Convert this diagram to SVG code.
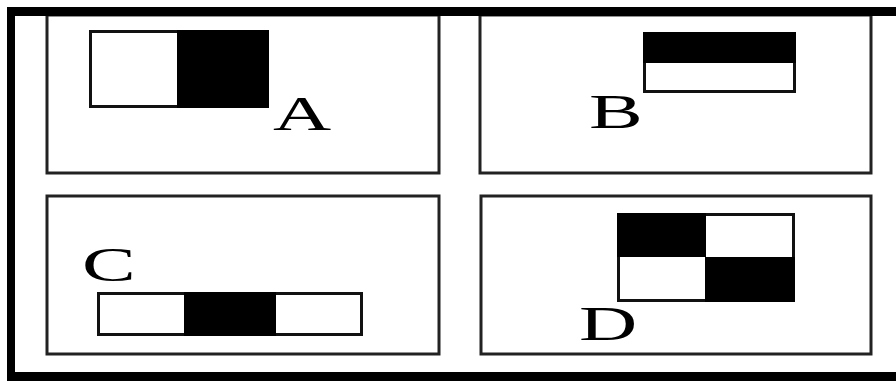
<svg xmlns="http://www.w3.org/2000/svg" width="896" height="381" viewBox="0 0 896 381">
<style>
.panel{fill:#fff;stroke:#222;stroke-width:3}
.box{fill:#fff;stroke:#111;stroke-width:3}
.blk{fill:#000}
.lbl{font-family:"Liberation Serif","Times New Roman",serif;font-size:48px;fill:#000}
</style>
<rect width="896" height="381" fill="#fff"/>
<g id="panelA">
<rect class="panel" x="47" y="15" width="392" height="158"/>
<rect class="box" x="90.5" y="31.5" width="177" height="75"/>
<rect class="blk" x="177" y="30" width="92" height="78"/>
<text class="lbl" transform="translate(273,130) scale(1.68,1)">A</text>
</g>
<g id="panelB">
<rect class="panel" x="480" y="15" width="391" height="158"/>
<rect class="box" x="644.5" y="33.5" width="150" height="58"/>
<rect class="blk" x="643" y="32" width="153" height="31"/>
<text class="lbl" transform="translate(589,128) scale(1.68,1)">B</text>
</g>
<g id="panelC">
<rect class="panel" x="47" y="196" width="392" height="158"/>
<rect class="box" x="98.5" y="293.5" width="263" height="41"/>
<rect class="blk" x="184" y="292" width="92" height="44"/>
<text class="lbl" transform="translate(82,281) scale(1.68,1)">C</text>
</g>
<g id="panelD">
<rect class="panel" x="481" y="196" width="390" height="158"/>
<rect class="box" x="618.5" y="214.5" width="175" height="86"/>
<rect class="blk" x="617" y="213" width="89" height="44"/>
<rect class="blk" x="705" y="257" width="90" height="45"/>
<text class="lbl" transform="translate(579,340) scale(1.68,1)">D</text>
</g>
<g id="frame">
<rect class="blk" x="7" y="7" width="889" height="9"/>
<rect class="blk" x="7" y="7" width="8" height="374"/>
<rect class="blk" x="7" y="372" width="889" height="9"/>
</g>
</svg>
